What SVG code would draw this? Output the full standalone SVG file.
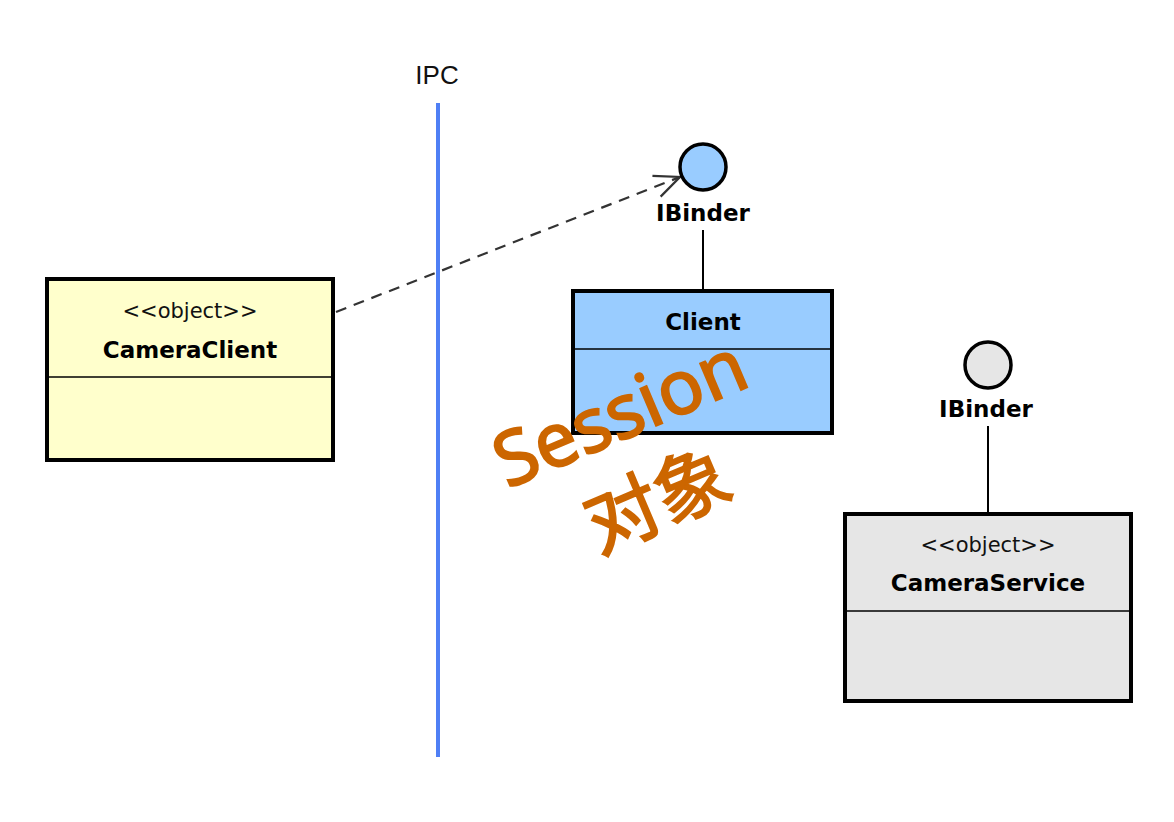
<svg xmlns="http://www.w3.org/2000/svg" width="1174" height="822" viewBox="0 0 1174 822">
<style>
.box{stroke:#000;stroke-width:4}
.div{stroke:#000;stroke-width:1.6}
.ster{font-family:"DejaVu Sans",sans-serif;font-size:21px;fill:#111;text-anchor:middle}
.name{font-family:"DejaVu Sans",sans-serif;font-weight:bold;font-size:23px;fill:#000;text-anchor:middle}
.lolli{stroke:#000;stroke-width:3.5}
.stem{stroke:#000;stroke-width:2}
.wm{font-family:"Noto Sans","Noto Sans CJK SC",sans-serif;fill:#cc6600;stroke:#cc6600;stroke-width:2;text-anchor:middle;font-size:75px}
</style>
<defs>
<marker id="open" viewBox="0 0 20 20" refX="19" refY="10" markerWidth="28" markerHeight="28" markerUnits="userSpaceOnUse" orient="auto">
<path d="M1,2 L19,10 L1,18" fill="none" stroke="#333" stroke-width="1.6"/>
</marker>
</defs>
<rect width="1174" height="822" fill="#fff"/>
<g id="ipc">
<line x1="438" y1="103" x2="438" y2="757" stroke="#4f7ff5" stroke-width="4"/>
<text x="437" y="84" font-family="Liberation Sans,sans-serif" font-size="26" fill="#111" text-anchor="middle">IPC</text>
</g>
<g id="connectors">
<line x1="336" y1="312" x2="680" y2="177" stroke="#333" stroke-width="2.2" stroke-dasharray="11,8" marker-end="url(#open)"/>
<line class="stem" x1="703" y1="230" x2="703" y2="290"/>
<line class="stem" x1="988" y1="426" x2="988" y2="513"/>
</g>
<g id="cameraClient">
<rect class="box" x="47" y="279" width="286" height="181" fill="#ffffcc"/>
<line class="div" x1="47" y1="377" x2="333" y2="377"/>
<text class="ster" x="190" y="318">&lt;&lt;object&gt;&gt;</text>
<text class="name" x="190" y="358">CameraClient</text>
</g>
<g id="clientIBinder">
<circle class="lolli" cx="703" cy="167" r="23" fill="#99ccff"/>
<text class="name" x="703" y="221" font-size="22">IBinder</text>
</g>
<g id="client">
<rect class="box" x="573" y="291" width="259" height="142" fill="#99ccff"/>
<line class="div" x1="573" y1="349" x2="832" y2="349"/>
<text class="name" x="703" y="330">Client</text>
</g>
<g id="serviceIBinder">
<circle class="lolli" cx="988" cy="365" r="23" fill="#e6e6e6"/>
<text class="name" x="986" y="417" font-size="22">IBinder</text>
</g>
<g id="cameraService">
<rect class="box" x="845" y="514" width="286" height="187" fill="#e6e6e6"/>
<line class="div" x1="845" y1="611" x2="1131" y2="611"/>
<text class="ster" x="988" y="552">&lt;&lt;object&gt;&gt;</text>
<text class="name" x="988" y="591">CameraService</text>
</g>
<g id="watermark">
<text class="wm" transform="translate(630,437) rotate(-23)">Session</text>
<text class="wm" font-size="72" transform="translate(668,525) rotate(-23)">对象</text>
</g>
</svg>
